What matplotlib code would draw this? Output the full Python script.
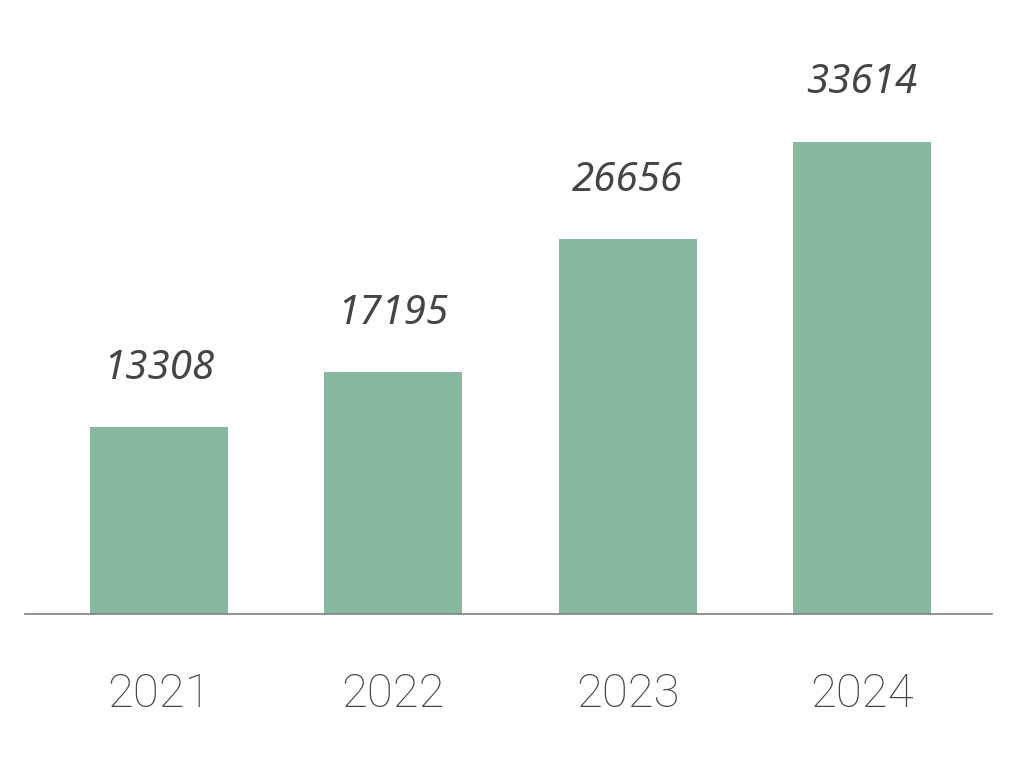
import matplotlib.pyplot as plt

years = ['2021', '2022', '2023', '2024']
values = [13308, 17195, 26656, 33614]

bar_color = '#89b8a0'
text_color = '#454545'

fig = plt.figure(figsize=(10.18, 7.68), dpi=100)
# axes placed so the baseline sits where the reference has it
ax = fig.add_axes([25 / 1018, 154 / 768, 967 / 1018, 614 / 768])

x = list(range(len(years)))
bars = ax.bar(x, values, width=0.59, color=bar_color)

ax.set_xlim(-0.572, 3.555)
ax.set_ylim(0, 43700)

# value labels above the bars
for xi, v in zip(x, values):
    ax.annotate(str(v), (xi, v), xytext=(0, 42), textcoords='offset points',
                ha='center', va='center', fontsize=29, style='italic',
                family=['Noto Sans', 'DejaVu Sans'], color=text_color)

ax.set_xticks(x)
ax.set_xticklabels(years, fontsize=34, color=text_color,
                   family=['Roboto', 'DejaVu Sans'], fontweight='light')
ax.tick_params(axis='x', length=0, pad=42)
ax.set_yticks([])

for side in ['top', 'right', 'left']:
    ax.spines[side].set_visible(False)
ax.spines['bottom'].set_color('#808080')
ax.spines['bottom'].set_linewidth(1.2)

plt.savefig('out.png', dpi=100)
